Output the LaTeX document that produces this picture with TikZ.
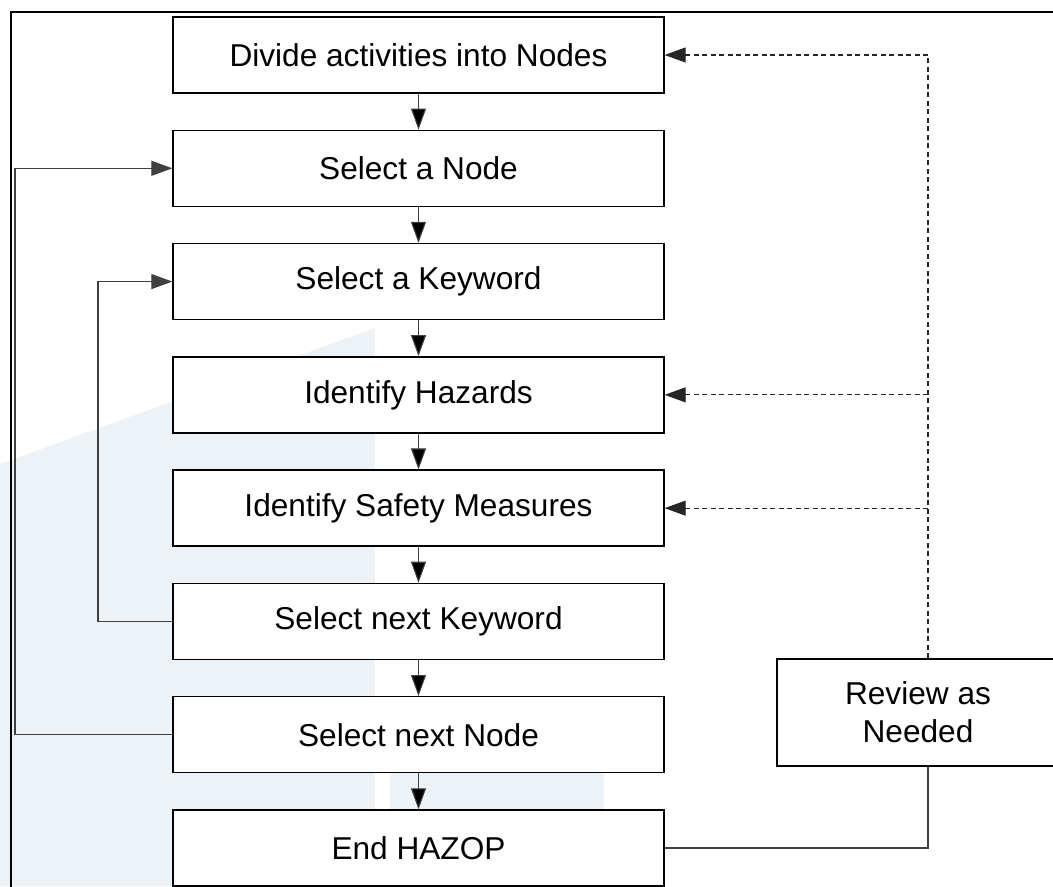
\documentclass[tikz,border=0pt]{standalone}
\usepackage{fontspec}
\setmainfont{Liberation Sans}
\usetikzlibrary{arrows.meta,positioning}

\definecolor{wmblue}{RGB}{237,242,247}

\begin{document}
\begin{tikzpicture}[x=0.02cm,y=-0.02cm,node distance=0.718cm,
    stepbox/.style={draw,fill=white,line width=0.8pt,minimum width=9.82cm,minimum height=1.52cm,
      font=\fontsize{18}{21.5}\selectfont},
    flow/.style={draw=black!75,line width=0.6pt,-{Triangle[length=0.42cm,width=0.3cm]}},
    link/.style={draw=black!75,line width=0.6pt},
    dashlink/.style={draw=black!85,line width=0.6pt,dash pattern=on 0.1cm off 0.07cm}]
    \useasboundingbox (0,0) rectangle (1053,886);
    \clip (0,0) rectangle (1053,886);
    \fill[white] (0,0) rectangle (1053,886);
    %faint background mark
    \fill[wmblue] (0,464) -- (375,328) -- (375,886) -- (0,886) -- cycle;
    \fill[wmblue] (390,773) rectangle (604,886);
    %frame
    \draw[line width=1.1pt] (11,12) rectangle (1080,920);

    %main steps
    \node[stepbox] (divide) at (418.5,55) {Divide activities into Nodes};
    \node[stepbox] (select) [below=of divide] {Select a Node};
    \node[stepbox] (keyword) [below=of select] {Select a Keyword};
    \node[stepbox] (hazards) [below=of keyword] {Identify Hazards};
    \node[stepbox] (measures) [below=of hazards] {Identify Safety Measures};
    \node[stepbox] (nextkey) [below=of measures] {Select next Keyword};
    \node[stepbox] (nextnode) [below=of nextkey] {Select next Node};
    \node[stepbox] (end) [below=of nextnode] {End HAZOP};

    %review
    \node[stepbox,minimum width=5.64cm,minimum height=2.14cm,align=center] (review) at (918,712.5) {Review as\\Needed};

    \coordinate (outer) at (15,0);
    \coordinate (inner) at (98,0);
    \coordinate (bus) at (928,55);

    \path[flow]
     (divide) edge (select)
     (select) edge (keyword)
     (keyword) edge (hazards)
     (hazards) edge (measures)
     (measures) edge (nextkey)
     (nextkey) edge (nextnode)
     (nextnode) edge (end);

    %loops back
    \draw[flow] (nextkey.west) -- (nextkey.west -| inner) |- (keyword.west);
    \draw[flow] (nextnode.west) -- (nextnode.west -| outer) |- (select.west);

    %review links
    \draw[dashlink] (review.north -| bus) -- (bus);
    \draw[dashlink,-{Triangle[length=0.42cm,width=0.3cm]}] (bus) -- (divide.east);
    \draw[dashlink,-{Triangle[length=0.42cm,width=0.3cm]}] (hazards.east -| bus) -- (hazards.east);
    \draw[dashlink,-{Triangle[length=0.42cm,width=0.3cm]}] (measures.east -| bus) -- (measures.east);
    \draw[link] (review.south -| bus) |- (end.east);
\end{tikzpicture}
\end{document}
